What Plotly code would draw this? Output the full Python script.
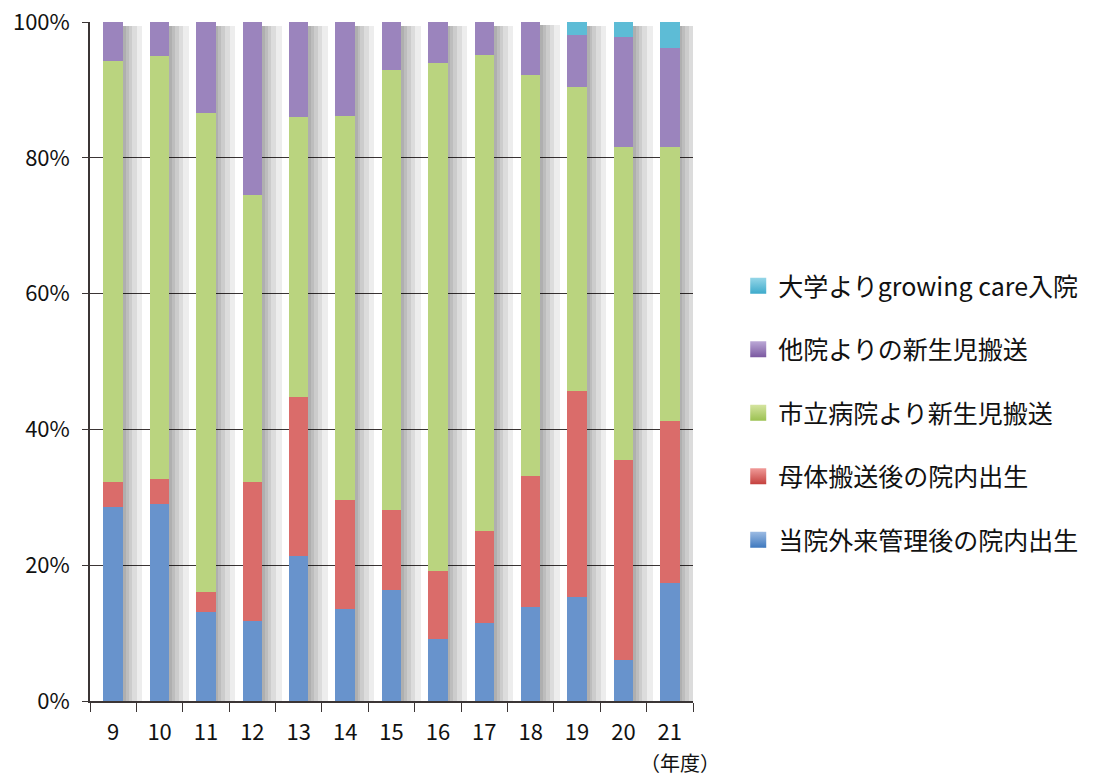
import plotly.graph_objects as go

years = ["9", "10", "11", "12", "13", "14", "15", "16", "17", "18", "19", "20", "21"]

# percentages (bottom to top)
own_outpatient = [28.6, 29.0, 13.1, 11.8, 21.4, 13.5, 16.3, 9.1, 11.5, 13.8, 15.3, 6.0, 17.4]
maternal_transport = [3.7, 3.7, 3.0, 20.5, 23.3, 16.1, 11.8, 10.0, 13.5, 19.4, 30.4, 29.5, 23.8]
city_hospital = [62.0, 62.3, 70.5, 42.2, 41.3, 56.6, 64.8, 74.9, 70.1, 59.0, 44.7, 46.1, 40.4]
other_hospital = [5.7, 5.0, 13.4, 25.5, 14.0, 13.8, 7.1, 6.0, 4.9, 8.0, 7.7, 16.2, 14.6]
university = [0.0, 0.0, 0.0, 0.0, 0.0, 0.0, 0.0, 0.0, 0.0, 0.0, 1.9, 2.2, 3.8]

series_names = [
    "当院外来管理後の院内出生",
    "母体搬送後の院内出生",
    "市立病院より新生児搬送",
    "他院よりの新生児搬送",
    "大学よりgrowing care入院",
]
series_values = [own_outpatient, maternal_transport, city_hospital, other_hospital, university]
bar_colors = ["#6893CC", "#DA6C6A", "#BAD47F", "#9B84BD", "#5DBCD6"]
legend_top = ["#9CBBE3", "#F09A98", "#D5E4A0", "#BBA8D6", "#95D6E8"]
legend_bottom = ["#3E78BE", "#C4403D", "#9BC151", "#7A58A0", "#3DAACB"]

FONT = "Noto Sans CJK JP"
bar_w = 0.42

fig = go.Figure()

# drop shadows (drawn on base axis, behind the bars; base=0 so they overlay, not stack)
totals = [sum(v[i] for v in series_values) for i in range(len(years))]
for extra in [0.06, 0.12, 0.2, 0.3, 0.42]:
    fig.add_trace(go.Bar(
        x=years, y=[t - 0.6 for t in totals], base=0,
        width=bar_w + extra, offset=-bar_w / 2,
        marker=dict(color="rgba(0,0,0,0.07)", line=dict(width=0)),
        showlegend=False, hoverinfo="skip", xaxis="x", yaxis="y",
    ))

# stacked bars
for name, vals, col in zip(series_names, series_values, bar_colors):
    fig.add_trace(go.Bar(
        x=years, y=vals, name=name, width=bar_w,
        marker=dict(color=col, line=dict(width=0)),
        showlegend=False, xaxis="x2", yaxis="y",
    ))

# legend entries (top of legend = top of stack)
for name, c1, c2 in reversed(list(zip(series_names, legend_top, legend_bottom))):
    fig.add_trace(go.Scatter(
        x=[None], y=[None], mode="markers", name=name, legendgroup=name,
        marker=dict(symbol="square", size=16, color=c1,
                    gradient=dict(type="vertical", color=c2), line=dict(width=0)),
        xaxis="x2", yaxis="y",
    ))

axis_x = dict(
    type="category", categoryorder="array", categoryarray=years,
    range=[-0.5, len(years) - 0.5],
)
fig.update_layout(
    width=1096, height=780,
    margin=dict(l=90, r=403, t=22, b=79),
    paper_bgcolor="white", plot_bgcolor="white",
    barmode="stack",
    font=dict(family=FONT, size=22, color="#111"),
    xaxis=dict(
        **axis_x, showgrid=False, showline=True, linecolor="#3b3535", linewidth=1.5,
        ticks="outside", tickson="boundaries", ticklen=9, tickcolor="#3b3535",
        tickfont=dict(size=22, family=FONT), ticklabelstandoff=11,
        fixedrange=True, automargin=False,
    ),
    xaxis2=dict(**axis_x, overlaying="x", visible=False, matches="x"),
    yaxis=dict(
        range=[0, 100], tickvals=[0, 20, 40, 60, 80, 100],
        ticktext=["0%", "20%", "40%", "60%", "80%", "100%"],
        showgrid=True, gridcolor="#3b3535", gridwidth=1,
        showline=True, linecolor="#3b3535", linewidth=1.5,
        ticks="outside", ticklen=6, tickcolor="#3b3535",
        tickfont=dict(size=22, family=FONT), ticklabelstandoff=8,
        zeroline=False, automargin=False,
    ),
    legend=dict(
        x=1.075, y=0.645, xanchor="left", yanchor="top",
        traceorder="grouped", tracegroupgap=28,
        font=dict(size=25, family=FONT, color="#111"),
        bgcolor="rgba(0,0,0,0)", itemsizing="trace",
    ),
    annotations=[dict(
        x=1.048, y=-0.1155, xref="paper", yref="paper", text="（年度）",
        showarrow=False, xanchor="right", yanchor="bottom",
        font=dict(size=20, family=FONT, color="#111"),
    )],
)

fig.write_html("out.html")
